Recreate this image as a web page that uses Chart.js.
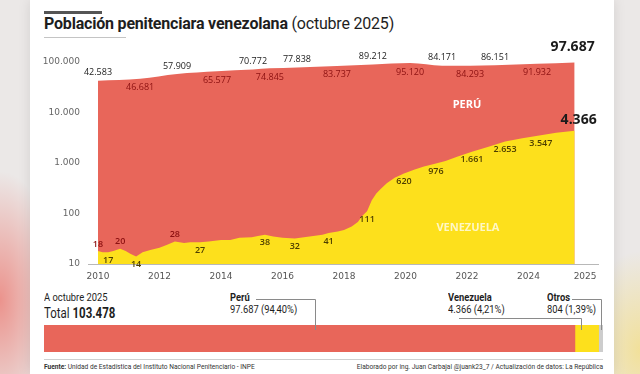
<!DOCTYPE html>
<html>
<head>
<meta charset="utf-8">
<script src="https://cdn.jsdelivr.net/npm/chart.js@4.4.0/dist/chart.umd.min.js"></script>
<style>
  html, body { margin: 0; padding: 0; }
  body { width: 640px; height: 374px; overflow: hidden; position: relative; background: #ebe8e7; font-family: "Liberation Sans Narrow", "Roboto", sans-serif; color: #1e1e1e; }
  .blur-l { position: absolute; left: -60px; top: 170px; width: 120px; height: 260px; background: radial-gradient(ellipse at center, rgba(235,90,80,.6), rgba(235,90,80,0) 70%); }
  .blur-r { position: absolute; right: -60px; top: 250px; width: 120px; height: 200px; background: radial-gradient(ellipse at center, rgba(250,215,60,.45), rgba(250,215,60,0) 70%); }
  .card { position: absolute; left: 30px; top: 0; width: 584px; height: 374px; background: #fff; box-shadow: 0 0 12px rgba(0,0,0,.10); }
  .abs { position: absolute; white-space: nowrap; }
  .topbar { left: 44px; top: 11px; width: 58px; height: 3px; background: #555; }
  .title { left: 44px; top: 14px; font: 16px "Roboto", sans-serif; letter-spacing: -0.2px; }
  .title b { font-weight: 700; }
  .uline { left: 44px; top: 37px; width: 82px; height: 1px; background: #c4c4c4; }
  .small { font-size: 11px; line-height: 12px; transform: scaleX(0.85); transform-origin: left top; }
  .total { font-size: 14px; transform: scaleX(0.82); transform-origin: left top; }
  .footer { font-size: 6.6px; color: #333; }
  .fline { left: 44px; top: 359px; width: 559px; height: 1px; background: #cfcfcf; }
</style>
</head>
<body>
<div class="blur-l"></div>
<div class="blur-r"></div>
<div class="card"></div>
<div class="abs topbar"></div>
<div class="abs title"><b>Población penitenciara venezolana</b> (octubre 2025)</div>
<div class="abs uline"></div>

<canvas id="main" class="abs" style="left:0;top:30px" width="640" height="255"></canvas>

<div class="abs small" style="left:44px;top:292px">A octubre 2025</div>
<div class="abs total" style="left:44px;top:305px">Total <b>103.478</b></div>
<div class="abs small" style="left:230px;top:292px"><b>Perú</b><br>97.687 (94,40%)</div>
<div class="abs small" style="left:448px;top:292px"><b>Venezuela</b><br>4.366 (4,21%)</div>
<div class="abs small" style="left:547px;top:292px"><b>Otros</b><br>804 (1,39%)</div>
<canvas id="share" class="abs" style="left:44px;top:290px" width="560" height="62"></canvas>

<div class="abs fline"></div>
<div class="abs footer" style="left:44px;top:363px"><b>Fuente:</b> Unidad de Estadística del Instituto Nacional Penitenciario - INPE</div>
<div class="abs footer" style="right:37px;top:363px">Elaborado por ing. Juan Carbajal @juank23_7 / Actualización de datos: La República</div>

<script>
// total prison population in Peru (red area)
const peruYears = [2010.0, 2011.37, 2012.57, 2013.87, 2015.04, 2015.59, 2016.47, 2017.77, 2018.94, 2020.15, 2021.19, 2022.1, 2022.91, 2024.28, 2025.5];
const peruValues = [42583, 46681, 57909, 65577, 70772, 74845, 77838, 83737, 89212, 95120, 84171, 84293, 86151, 91932, 97687];

// venezuelan inmates (yellow area)
const venYears = [2010.0, 2010.15, 2010.33, 2010.5, 2010.72, 2010.9, 2011.05, 2011.24, 2011.45, 2011.7,
  2012.0, 2012.25, 2012.5, 2012.8, 2013.0, 2013.32, 2013.6, 2014.0, 2014.3, 2014.6,
  2015.0, 2015.2, 2015.43, 2015.7, 2016.0, 2016.4, 2016.7, 2017.0, 2017.3, 2017.5,
  2017.8, 2018.0, 2018.25, 2018.45, 2018.6, 2018.75, 2018.9, 2019.05, 2019.2, 2019.4,
  2019.65, 2019.95, 2020.3, 2020.6, 2020.99, 2021.3, 2021.7, 2022.16, 2022.7, 2023.24,
  2023.8, 2024.4, 2024.9, 2025.5];
const venValues = [18, 17, 17, 18, 20, 18, 16, 14, 17, 19,
  21, 24, 28, 26, 27, 27, 28, 30, 30, 33,
  34, 36, 38, 35, 33, 32, 34, 36, 38, 41,
  44, 47, 55, 68, 90, 111, 180, 250, 310, 400,
  510, 620, 740, 850, 976, 1100, 1350, 1661, 2100, 2653,
  3100, 3547, 3950, 4366];
// points of the yellow series that carry a number
const venTagIdx = [0, 2, 4, 7, 12, 15, 22, 25, 29, 35, 41, 44, 47, 49, 51, 53];

const xTickYears = [2010, 2012, 2014, 2016, 2018, 2020, 2022, 2024, 2025.84];
const xTickLabels = ['2010', '2012', '2014', '2016', '2018', '2020', '2022', '2024', '2025'];
const yTicks = [10, 100, 1000, 10000, 100000];
const yTickLabels = ['10', '100', '1.000', '10.000', '100.000'];

// share bar, october 2025
const shareLabels = ['Perú', 'Venezuela', 'Otros'];
const shareValues = [97687, 4366, 804];

const RED = '#e8665a';
const YELLOW = '#fde01c';
const GREY = '#cdcdcd';

const fmt = v => String(v).replace(/\B(?=(\d{3})+(?!\d))/g, '.');

const tagPlugin = {
  id: 'tags',
  afterDatasetsDraw(chart) {
    const { ctx, scales: { x, y } } = chart;
    ctx.save();
    ctx.textAlign = 'center';
    ctx.textBaseline = 'middle';

    peruYears.forEach((yr, i) => {
      const px = x.getPixelForValue(yr);
      const py = y.getPixelForValue(peruValues[i]);
      if (i === peruYears.length - 1) {
        ctx.font = 'bold 14px "Open Sans"';
        ctx.fillStyle = '#1b1b1b';
        ctx.fillText(fmt(peruValues[i]), px - 2, py - 15);
        return;
      }
      const above = i % 2 === 0;
      ctx.font = '9px "Open Sans"';
      ctx.fillStyle = above ? '#222' : '#8c1111';
      ctx.fillText(fmt(peruValues[i]), px, py + (above ? -8 : 9));
    });

    const aboveIdx = [0, 4, 12];
    venTagIdx.forEach((k, n) => {
      const px = x.getPixelForValue(venYears[k]);
      const py = y.getPixelForValue(venValues[k]);
      if (n === venTagIdx.length - 1) {
        ctx.font = 'bold 14px "Open Sans"';
        ctx.fillStyle = '#1b1b1b';
        ctx.fillText(fmt(venValues[k]), px + 4, py - 11);
        return;
      }
      const above = aboveIdx.includes(k);
      ctx.font = '600 9px "Open Sans"';
      ctx.fillStyle = above ? '#8c1111' : '#4d3e00';
      ctx.fillText(fmt(venValues[k]), px, py + (above ? -7 : 8));
    });

    ctx.font = 'bold 11px "Open Sans"';
    ctx.fillStyle = '#ffffff';
    ctx.fillText('PERÚ', x.getPixelForValue(2022.0), y.getPixelForValue(14100));
    ctx.fillStyle = 'rgba(255,250,215,0.9)';
    ctx.fillText('VENEZUELA', x.getPixelForValue(2022.03), y.getPixelForValue(52));
    ctx.restore();
  }
};

new Chart(document.getElementById('main'), {
  type: 'line',
  data: {
    datasets: [
      {
        label: 'Venezuela',
        data: venYears.map((yr, i) => ({ x: yr, y: venValues[i] })),
        backgroundColor: YELLOW,
        borderWidth: 0,
        pointRadius: 0,
        fill: 'start',
        tension: 0
      },
      {
        label: 'Perú',
        data: peruYears.map((yr, i) => ({ x: yr, y: peruValues[i] })),
        backgroundColor: RED,
        borderWidth: 0,
        pointRadius: 0,
        fill: 'start',
        cubicInterpolationMode: 'monotone'
      }
    ]
  },
  options: {
    responsive: false,
    devicePixelRatio: 1,
    animation: false,
    layout: { padding: { top: 32, right: 42, left: 0, bottom: 0 } },
    plugins: { legend: { display: false }, tooltip: { enabled: false } },
    scales: {
      x: {
        type: 'linear',
        min: 2009.675,
        max: 2026.26,
        afterBuildTicks: s => { s.ticks = xTickYears.map(v => ({ value: v })); },
        afterFit: s => { s.height = 21; },
        grid: { display: false, drawTicks: false },
        border: { color: '#b8b8b8', width: 1 },
        ticks: {
          padding: 7,
          color: '#555',
          font: { family: 'DejaVu Sans', size: 9 },
          maxRotation: 0,
          callback: (v, i) => xTickLabels[i]
        }
      },
      y: {
        type: 'logarithmic',
        min: 10,
        max: 100000,
        afterBuildTicks: s => { s.ticks = yTicks.map(v => ({ value: v })); },
        afterFit: s => { s.width = 88; },
        grid: { display: false, drawTicks: false },
        border: { display: false },
        ticks: {
          padding: 8,
          color: '#666',
          font: { family: 'DejaVu Sans', size: 9 },
          callback: v => yTickLabels[yTicks.indexOf(v)]
        }
      }
    }
  },
  plugins: [tagPlugin]
});

const leaderPlugin = {
  id: 'leaders',
  afterDatasetsDraw(chart) {
    const { ctx } = chart;
    const bars = chart.data.datasets.map((d, i) => chart.getDatasetMeta(i).data[0]);
    const top = bars[0].y - bars[0].height / 2;
    const drop = top + 5;
    ctx.save();
    ctx.strokeStyle = '#8a8a8a';
    ctx.lineWidth = 1;
    ctx.beginPath();
    // Perú
    const pX = Math.round(bars[0].base + (bars[0].x - bars[0].base) * 0.51) + 0.5;
    ctx.moveTo(212, 9.5); ctx.lineTo(pX, 9.5); ctx.lineTo(pX, drop);
    // Venezuela
    const vX = Math.round(bars[1].base + 6) + 0.5;
    ctx.moveTo(415, 28.5); ctx.lineTo(vX, 28.5); ctx.lineTo(vX, drop);
    // Otros
    const oX = Math.round((bars[2].base + bars[2].x) / 2) + 0.5;
    ctx.moveTo(528, 9.5); ctx.lineTo(oX, 9.5); ctx.lineTo(oX, drop);
    ctx.stroke();
    ctx.restore();
  }
};

const shareColors = [RED, YELLOW, GREY];
new Chart(document.getElementById('share'), {
  type: 'bar',
  data: {
    labels: ['Total'],
    datasets: shareLabels.map((name, i) => ({
      label: name,
      data: [shareValues[i]],
      backgroundColor: shareColors[i],
      borderWidth: 0,
      barPercentage: 1,
      categoryPercentage: 1
    }))
  },
  options: {
    indexAxis: 'y',
    responsive: false,
    devicePixelRatio: 1,
    animation: false,
    layout: { padding: { top: 35, right: 1, left: 0, bottom: 0 } },
    plugins: { legend: { display: false }, tooltip: { enabled: false } },
    scales: {
      x: { stacked: true, display: false, min: 0, max: shareValues.reduce((a, b) => a + b, 0) },
      y: { stacked: true, display: false }
    }
  },
  plugins: [leaderPlugin]
});
</script>
</body>
</html>
